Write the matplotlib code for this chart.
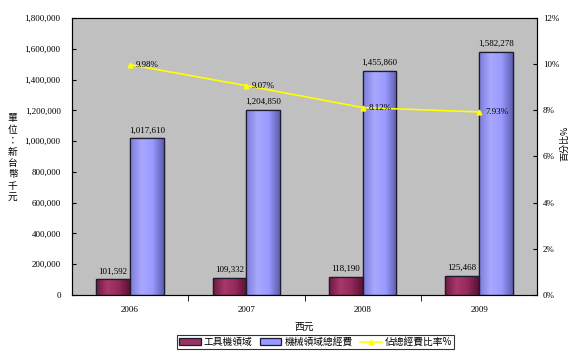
import numpy as np
import matplotlib.pyplot as plt
from matplotlib.colors import LinearSegmentedColormap

plt.rcParams['font.family'] = ['Noto Sans CJK TC', 'DejaVu Sans']

years = ["2006", "2007", "2008", "2009"]
tool_machine = [101592, 109332, 118190, 125468]
machinery_total = [1017610, 1204850, 1455860, 1582278]
share_pct = [9.98, 9.07, 8.12, 7.93]

labels = ["工具機領域", "機械領域總經費", "佔總經費比率%"]

fig = plt.figure(figsize=(5.74, 3.54), dpi=100)
ax = fig.add_axes([0.125, 0.167, 0.811, 0.782])
ax.set_facecolor("#c0c0c0")

x = np.arange(len(years))
w = 0.29

maroon_cmap = LinearSegmentedColormap.from_list("m", ["#6e1a40", "#a8386a", "#93295a", "#5a1232"])
blue_cmap = LinearSegmentedColormap.from_list("b", ["#7c7cd8", "#a8a8ff", "#9a9aff", "#5e5eb0"])


def shaded_bars(xs, vals, color, cmap, label):
    bars = ax.bar(xs, vals, width=w, color=color, linewidth=0, label=label, zorder=2)
    grad = np.linspace(0, 1, 64).reshape(1, -1)
    for b in bars:
        im = ax.imshow(grad, cmap=cmap, aspect="auto", zorder=2.5,
                       extent=[b.get_x(), b.get_x() + b.get_width(), 0, b.get_height()])
        im.set_clip_path(b)
    # outlines on top of the shading
    ax.bar(xs, vals, width=w, fill=False, edgecolor="#1c1c30", linewidth=0.9, zorder=3)
    return bars


b1 = shaded_bars(x - w / 2, tool_machine, "#993366", maroon_cmap, labels[0])
b2 = shaded_bars(x + w / 2, machinery_total, "#9999ff", blue_cmap, labels[1])
for b in list(b1) + list(b2):
    b.set_edgecolor("#1c1c30")
    b.set_linewidth(0.9)

for xs, vals in [(x - w / 2, tool_machine), (x + w / 2, machinery_total)]:
    for xi, v in zip(xs, vals):
        ax.text(xi, v + 25000, f"{v:,}", ha="center", va="bottom", fontsize=6.5,
                family="Liberation Serif", zorder=5)

ax.set_xlim(-0.5, len(years) - 0.5)
ax.set_ylim(0, 1800000)
ax.set_yticks(np.arange(0, 1800001, 200000))
ax.set_yticklabels([f"{v:,}" for v in np.arange(0, 1800001, 200000)], fontsize=6.5,
                   family="Liberation Serif")
ax.tick_params(axis="y", direction="in", length=3, pad=8)
ax.set_xticks(x)
ax.set_xticklabels(years, fontsize=6.5, family="Liberation Serif")
ax.set_xticks(np.arange(0.5, len(years) - 1, 1), minor=True)
ax.tick_params(axis="x", which="major", length=0, pad=8)
ax.tick_params(axis="x", which="minor", length=4, direction="out")
ax.set_xlabel("西元", fontsize=7, labelpad=6)
for s in ax.spines.values():
    s.set_color("#444444")
    s.set_linewidth(0.8)

fig.text(0.022, 0.555, "\n".join("單位：新台幣千元"), ha="center", va="center",
         fontsize=7, linespacing=1.15)

ax2 = ax.twinx()
ax2.set_ylim(0, 12)
ax2.set_yticks(np.arange(0, 13, 2))
ax2.set_yticklabels([f"{v}%" for v in range(0, 13, 2)], fontsize=6.5, family="Liberation Serif")
ax2.tick_params(axis="y", direction="in", length=3, pad=4)
fig.text(0.983, 0.595, "百分比%", rotation=90, ha="center", va="center", fontsize=6.5)
ln, = ax2.plot(x, share_pct, color="#ffff00", linewidth=1.2, marker="^", markersize=3.5,
               label=labels[2], zorder=4)
for xi, p in zip(x, share_pct):
    ax2.text(xi + 0.05, p, f"{p:.2f}%", ha="left", va="center", fontsize=6.5,
             family="Liberation Serif", zorder=6)

leg = fig.legend(handles=[b1, b2, ln], labels=labels, loc="lower center",
                 bbox_to_anchor=(0.55, 0.0), ncol=3, fontsize=7, frameon=True,
                 fancybox=False, edgecolor="#000000", handlelength=2.2,
                 handletextpad=0.3, columnspacing=0.8, borderpad=0.2)
leg.get_frame().set_linewidth(0.8)

fig.savefig("out.png", dpi=100)
